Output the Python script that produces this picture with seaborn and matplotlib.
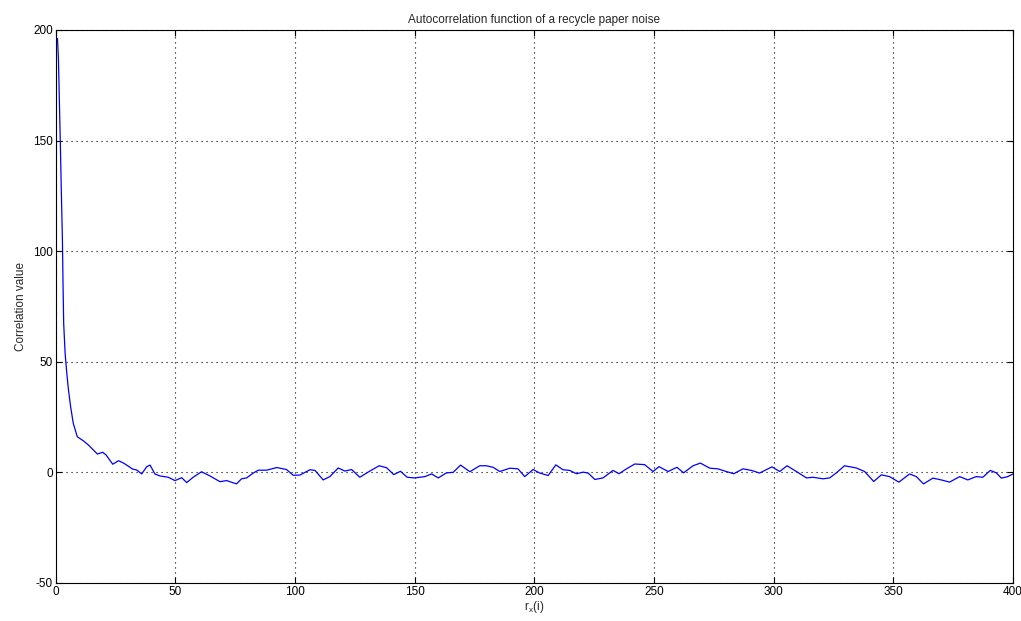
import matplotlib
matplotlib.use("Agg")
import matplotlib.pyplot as plt
import seaborn as sns
import pandas as pd

lags = [0.8, 1.2, 1.6, 2.0, 2.4, 2.85, 3.1, 3.4, 4.0, 4.7, 5.4, 6.3, 7.4, 9.1, 11.6, 13.7,
        15.8, 17.5, 19.7, 21.1, 23.9, 26.3, 28.6, 32.2, 33.9, 36.0, 38.1, 39.5, 41.5, 43.6,
        47.1, 49.9, 52.7, 54.8, 57.5, 61.0, 64.5, 68.7, 71.5, 75.6, 77.7, 79.8, 82.6, 84.7,
        88.2, 92.4, 96.5, 99.3, 102.1, 106.3, 108.4, 111.8, 114.6, 118.1, 120.9, 123.7,
        127.1, 131.3, 135.2, 138.3, 141.3, 144.1, 146.9, 150.1, 154.3, 157.1, 159.9, 163.3,
        166.1, 169.2, 173.1, 177.2, 180.0, 182.8, 185.6, 189.8, 193.2, 196.0, 199.5, 202.3,
        205.8, 209.0, 212.0, 214.8, 217.6, 220.4, 222.5, 225.3, 228.7, 232.9, 235.4, 238.5,
        242.0, 246.1, 249.6, 252.1, 255.9, 259.6, 262.4, 266.3, 269.4, 273.3, 276.7, 280.2,
        283.3, 287.2, 290.7, 294.1, 299.3, 302.5, 305.6, 309.5, 313.7, 316.4, 320.6, 323.4,
        326.2, 329.6, 334.5, 338.0, 341.8, 345.0, 348.4, 352.3, 356.8, 359.6, 362.6, 366.5,
        370.0, 373.5, 377.7, 381.1, 384.6, 387.4, 390.5, 393.0, 395.1, 397.8, 400.0]
values = [196.2, 187.2, 168.4, 148.8, 127.7, 106.6, 87.0, 67.4, 53.8, 44.8, 37.3, 29.7, 22.2,
          16.1, 14.3, 12.4, 10.1, 8.3, 9.1, 7.9, 3.7, 5.3, 4.1, 1.5, 1.1, -0.7, 2.6, 3.3, -0.7,
          -1.6, -2.2, -3.7, -2.4, -4.6, -2.2, 0.3, -1.6, -4.2, -3.7, -5.2, -2.9, -2.5, -0.3,
          1.0, 1.0, 2.2, 1.3, -1.3, -1.2, 1.2, 0.9, -3.4, -1.9, 2.0, 0.6, 1.3, -2.2, 0.6, 3.0,
          2.1, -1.0, 0.5, -2.2, -2.5, -1.9, -0.7, -2.5, -0.2, 0.0, 3.3, 0.3, 3.0, 3.0, 2.3, 0.4,
          1.9, 1.6, -1.9, 1.3, -0.3, -1.4, 3.4, 1.2, 0.9, -0.6, 0.1, -0.3, -3.2, -2.5, 0.9,
          -0.6, 1.6, 3.8, 3.5, 0.4, 2.6, 0.4, 2.3, -0.2, 3.0, 4.2, 1.9, 1.6, 0.4, -0.6, 1.6,
          0.9, -0.3, 2.5, 0.4, 3.0, 0.4, -2.5, -2.2, -2.9, -2.5, -0.2, 3.0, 2.0, 0.4, -4.1,
          -1.1, -1.9, -4.4, -0.7, -1.9, -5.2, -2.6, -3.4, -4.4, -1.9, -3.4, -1.9, -2.2, 0.9,
          -0.2, -2.6, -1.9, -0.7]

xticks = [0, 50, 100, 150, 200, 250, 300, 350, 400]
yticks = [-50, 0, 50, 100, 150, 200]

sns.set_theme(style="white")
plt.rcParams['font.family'] = ['Liberation Sans', 'DejaVu Sans']
plt.rcParams['axes.unicode_minus'] = False

df = pd.DataFrame({"lag": lags, "value": values})

fig = plt.figure(figsize=(10.21, 6.21), dpi=100)
ax = fig.add_axes([0.0544, 0.0612, 0.9378, 0.8905])
sns.lineplot(data=df, x="lag", y="value", ax=ax, color="#0000ff", linewidth=0.9)

ax.set_xlim(0, 400)
ax.set_ylim(-50, 200)
ax.set_xticks(xticks)
ax.set_yticks(yticks)
ax.tick_params(direction="in", length=4, width=0.8, labelsize=8.5, colors="black",
               top=True, right=True, bottom=True, left=True, pad=2)
ax.grid(True, color="black", linestyle=(0, (1, 3.5)), linewidth=0.8)
for s in ax.spines.values():
    s.set_color("black")
    s.set_linewidth(0.8)
ax.set_title("Autocorrelation function of a recycle paper noise", fontsize=8.5, pad=5)
ax.set_xlabel(r"r$_\mathregular{x}$(i)", fontsize=8.5, labelpad=1)
ax.set_ylabel("Correlation value", fontsize=8.5, labelpad=4)

fig.savefig("out.png", dpi=100, facecolor="white")
